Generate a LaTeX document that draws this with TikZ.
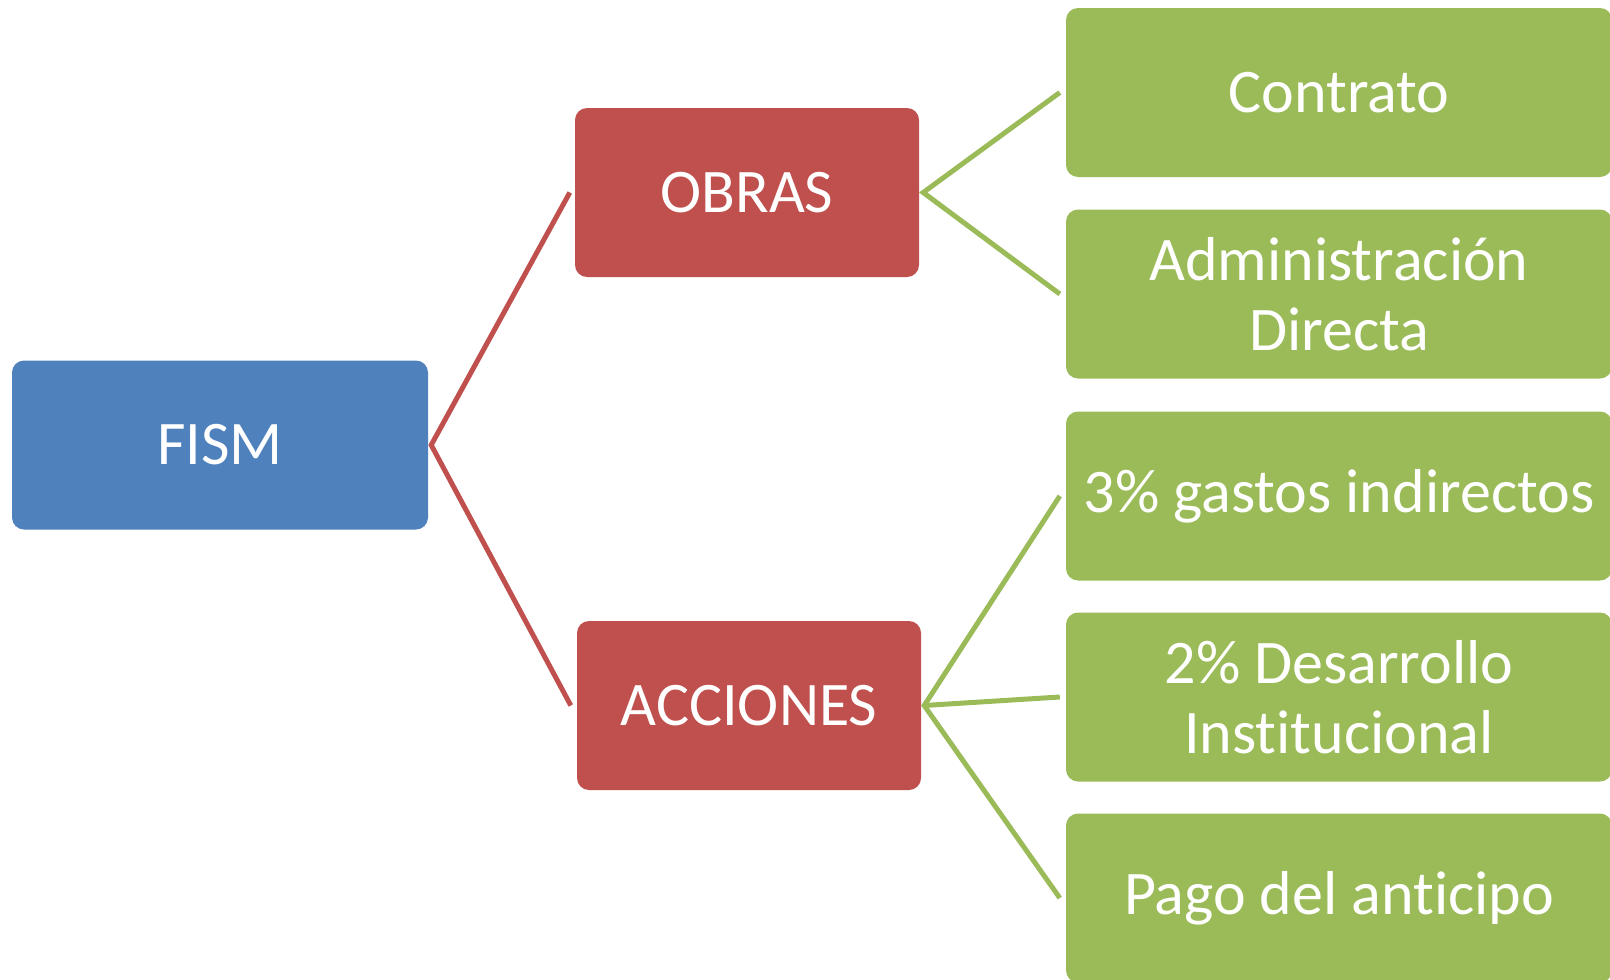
\documentclass[tikz,border=0pt]{standalone}
\usepackage{fontspec}
\setmainfont{Carlito}[Ligatures={NoCommon,NoRare}]
\usetikzlibrary{calc}
\definecolor{cblue}{HTML}{4F81BD}
\definecolor{cred}{HTML}{C0504D}
\definecolor{cgreen}{HTML}{9BBB59}
\begin{document}
\begin{tikzpicture}[x=1pt,y=-1pt,
  box/.style={rectangle,rounded corners=12pt,draw=none,text=white,align=center,
    minimum height=169pt,inner sep=0pt,
    font=\fontsize{62pt}{70pt}\selectfont},
  bluebox/.style={box,fill=cblue,minimum width=416pt},
  redbox/.style={box,fill=cred,minimum width=344pt},
  greenbox/.style={box,fill=cgreen,minimum width=546pt},
  redline/.style={draw=cred,line width=5pt,line join=miter},
  greenline/.style={draw=cgreen,line width=5pt,line join=miter}]
\useasboundingbox (0,0) rectangle (1610,980);
\node[bluebox] (fism) at (220,445) {FISM};
\node[redbox] (obras) at (747,192.5) {OBRAS};
\node[redbox] (acc) at (749,705.5) {ACCIONES};
\node[greenbox] (g1) at (1339,92.5) {Contrato};
\node[greenbox] (g2) at (1339,294) {Administración\\Directa};
\node[greenbox] (g3) at (1339,496) {3\% gastos indirectos};
\node[greenbox] (g4) at (1339,697) {2\% Desarrollo\\Institucional};
\node[greenbox] (g5) at (1339,898) {Pago del anticipo};
\coordinate (fj) at ($(fism.east)+(3,0)$);
\coordinate (oj) at ($(obras.east)+(4,0)$);
\coordinate (aj) at ($(acc.east)+(3,0)$);
\draw[redline] ($(obras.west)+(-5,0)$) -- (fj) -- ($(acc.west)+(-6,0)$);
\draw[greenline] ($(g1.west)+(-6,0)$) -- (oj) -- ($(g2.west)+(-6,0)$);
\draw[greenline] ($(g3.west)+(-6,0)$) -- (aj) -- ($(g5.west)+(-6,0)$);
\draw[greenline] (aj) -- ($(g4.west)+(-6,0)$);
\end{tikzpicture}
\end{document}
